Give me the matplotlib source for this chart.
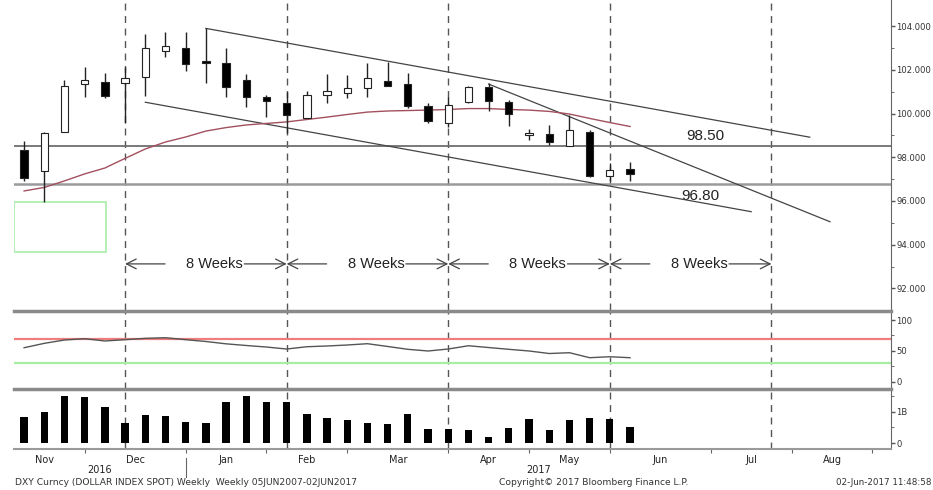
import matplotlib
matplotlib.use("Agg")
import matplotlib.pyplot as plt
import matplotlib.transforms as mtransforms
from matplotlib.patches import Rectangle
import numpy as np

# weekly DXY candles, Nov 2016 - Jun 2017
opens = [98.33, 97.37, 99.14, 101.35, 101.46, 101.39, 101.67, 102.88, 102.99, 102.42, 102.30,
         101.54, 100.77, 100.47, 99.78, 100.85, 100.96, 101.19, 101.49, 101.34, 100.36,
         99.56, 100.52, 101.20, 100.52, 99.04, 99.05, 98.53, 99.17, 97.14, 97.45]
closes = [97.07, 99.13, 101.26, 101.52, 100.81, 101.64, 103.02, 103.08, 102.27, 102.30, 101.20,
          100.77, 100.58, 99.94, 100.85, 101.03, 101.16, 101.64, 101.28, 100.35, 99.68,
          100.38, 101.23, 100.58, 99.98, 99.08, 98.69, 99.25, 97.16, 97.42, 97.22]
highs = [98.75, 99.17, 101.54, 102.12, 101.87, 102.15, 103.64, 103.73, 103.72, 103.90, 102.99,
         101.81, 100.85, 100.97, 101.05, 101.81, 101.77, 102.30, 102.36, 101.84, 100.47,
         100.76, 101.27, 101.39, 100.62, 99.30, 99.48, 99.94, 99.25, 97.73, 97.80]
lows = [96.93, 95.94, 99.14, 100.75, 100.70, 99.57, 100.81, 102.60, 101.96, 101.39, 100.77,
        100.32, 99.86, 99.10, 99.78, 100.50, 100.73, 100.77, 101.28, 100.24, 99.58,
        99.39, 100.48, 100.12, 99.43, 98.79, 98.56, 98.53, 97.10, 96.92, 96.92]
moving_avg = [96.46, 96.62, 96.92, 97.24, 97.51, 97.95, 98.38, 98.70, 98.93, 99.20, 99.36,
              99.48, 99.55, 99.62, 99.73, 99.84, 99.96, 100.07, 100.12, 100.14, 100.16,
              100.19, 100.23, 100.23, 100.19, 100.16, 100.10, 99.98, 99.78, 99.59, 99.41]
rsi = [55.1, 62.2, 67.6, 69.7, 66.0, 68.1, 70.3, 71.3, 68.1, 65.2, 61.4,
       58.7, 56.2, 53.0, 56.7, 57.9, 59.5, 61.6, 57.1, 52.5, 49.8,
       53.0, 58.3, 55.4, 52.5, 49.8, 45.7, 47.0, 38.9, 40.5, 38.9]
volume_b = [0.82, 0.98, 1.50, 1.46, 1.14, 0.65, 0.90, 0.88, 0.66, 0.64, 1.31,
            1.50, 1.31, 1.31, 0.94, 0.81, 0.74, 0.65, 0.62, 0.93, 0.46,
            0.44, 0.42, 0.20, 0.48, 0.78, 0.41, 0.73, 0.81, 0.78, 0.50]

# hand drawn trend lines: (week, level) pairs
trend_upper = [(9.0, 103.9), (38.9, 98.92)]
trend_lower = [(6.0, 100.52), (36.0, 95.51)]
trend_steep = [(23.0, 101.35), (39.9, 95.05)]
levels = [98.50, 96.80]
level_labels = ["98.50", "96.80"]
cycle_weeks = [5, 13, 21, 29, 37]

month_edges = [-1, 3, 8, 12, 16, 21, 25, 29, 34, 38, 42]
month_names = ["Nov", "Dec", "Jan", "Feb", "Mar", "Apr", "May", "Jun", "Jul", "Aug"]
years = ["2016", "2017"]

W, H = 933, 490
fig = plt.figure(figsize=(W / 100, H / 100), dpi=100)
plt.rcParams['font.family'] = ['DejaVu Sans']


def box(top, bottom):
    return [14 / W, 1 - bottom / H, (891 - 14) / W, (bottom - top) / H]


ax = fig.add_axes(box(0, 310))
ax_rsi = fig.add_axes(box(311, 389))
ax_vol = fig.add_axes(box(389, 449))

xs = np.arange(len(opens))
x_right = 42.92
for a in (ax, ax_rsi, ax_vol):
    a.set_xlim(-0.5, x_right)
    a.set_facecolor("white")
    a.spines['left'].set_visible(False)
    a.spines['right'].set_color("#666666")
    a.spines['top'].set_visible(False)
    a.spines['bottom'].set_visible(False)
    a.yaxis.tick_right()
    a.tick_params(axis='y', which='major', direction='out', length=3, width=1,
                  colors="#555555", labelcolor="#333333", labelsize=6.1, pad=1)
    a.tick_params(axis='y', which='minor', direction='out', length=2, colors="#555555")
    for w in cycle_weeks:
        a.axvline(w, color="#555555", lw=1, dashes=(5, 4), zorder=1)

for a in (ax_rsi, ax_vol):
    a.spines['top'].set_visible(True)
    a.spines['top'].set_color("#8a8a8a")
    a.spines['top'].set_linewidth(2.5)

# ---- price panel
ax.set_ylim(91.01, 105.2)
ax.set_yticks([92, 94, 96, 98, 100, 102, 104])
ax.set_yticks([93, 95, 97, 99, 101, 103], minor=True)
ax.set_yticklabels(["%.3f" % v for v in [92, 94, 96, 98, 100, 102, 104]])
ax.tick_params(axis='x', bottom=False, labelbottom=False)

ax.axhline(levels[0], color="#6e6e6e", lw=1.3, zorder=2)
ax.axhline(levels[1], color="#9a9a9a", lw=1.8, zorder=2)
ax.text(33.75, levels[0] + 0.15, level_labels[0], fontsize=11, family="Liberation Sans",
        ha="center", va="bottom", color="#222222")
ax.text(33.5, levels[1] - 0.25, level_labels[1], fontsize=11, family="Liberation Sans",
        ha="center", va="top", color="#222222")

for seg in (trend_upper, trend_lower, trend_steep):
    ax.plot([seg[0][0], seg[1][0]], [seg[0][1], seg[1][1]], color="#444444", lw=0.9, zorder=3)

ax.plot(xs, moving_avg, color="#a2505e", lw=1.0, zorder=3)

ax.vlines(xs, lows, highs, color="#222222", lw=1, zorder=4)
o = np.array(opens)
c = np.array(closes)
up = c >= o
body_bottom = np.minimum(o, c)
body_h = np.maximum(np.abs(c - o), 0.06)
ax.bar(xs, body_h, bottom=body_bottom, width=0.36,
       color=np.where(up, "white", "black"), edgecolor="#222222", lw=0.8, zorder=5)

# green box at the left edge
ax.add_patch(Rectangle((-0.5, 93.68), 4.56, 2.26, fill=False, edgecolor="#a8eea8", lw=1.2, zorder=3))

# "8 Weeks" arrows
arrow_y = 93.12
for k, a0 in enumerate(cycle_weeks[:-1]):
    b0 = cycle_weeks[k + 1]
    ax.text(a0 + 4.42, arrow_y, "8 Weeks", fontsize=10.5, family="Liberation Sans",
            ha="center", va="center", color="#222222", zorder=6)
    style = dict(arrowstyle="->,head_length=0.7,head_width=0.35", color="#444444", lw=0.9,
                 shrinkA=0, shrinkB=0)
    ax.annotate("", xy=(a0, arrow_y), xytext=(a0 + 1.98, arrow_y), arrowprops=style)
    ax.annotate("", xy=(b0, arrow_y), xytext=(a0 + 5.9, arrow_y), arrowprops=style)

# ---- RSI panel
ax_rsi.set_ylim(-11.8, 114.6)
ax_rsi.set_yticks([0, 50, 100])
ax_rsi.set_yticks([25, 75], minor=True)
ax_rsi.tick_params(axis='x', bottom=False, labelbottom=False)
ax_rsi.axhline(70, color="#f07c7c", lw=1.6, zorder=2)
ax_rsi.axhline(30, color="#a6eea6", lw=1.6, zorder=2)
ax_rsi.plot(xs, rsi, color="#555555", lw=1.0, zorder=3)

# ---- volume panel
ax_vol.set_ylim(-0.19, 1.73)
ax_vol.set_yticks([0, 1])
ax_vol.set_yticklabels(["0", "1B"])
ax_vol.set_yticks([0.5, 1.5], minor=True)
ax_vol.spines['bottom'].set_visible(True)
ax_vol.spines['bottom'].set_color("#9a9a9a")
ax_vol.spines['bottom'].set_linewidth(1.5)
ax_vol.bar(xs, volume_b, width=0.36, color="black", zorder=4)

ax_vol.set_xticks(month_edges[1:])
ax_vol.set_xticklabels([])
centers = [(month_edges[i] + month_edges[i + 1]) / 2 for i in range(len(month_names))]
ax_vol.set_xticks(centers, minor=True)
ax_vol.set_xticklabels(month_names, minor=True)
ax_vol.tick_params(axis='x', which='major', direction='out', length=3, colors="#666666")
ax_vol.tick_params(axis='x', which='minor', length=0, labelsize=7, labelcolor="#222222", pad=4)

# years under the months
trans = mtransforms.blended_transform_factory(ax_vol.transData, fig.transFigure)
fig.text((-0.5 + 8) / 2, 1 - 470 / H, years[0], transform=trans, ha="center", va="center",
         fontsize=7, color="#222222")
fig.text((8 + x_right) / 2, 1 - 470 / H, years[1], transform=trans, ha="center", va="center",
         fontsize=7, color="#222222")
fig.add_artist(plt.Line2D([8, 8], [1 - 458 / H, 1 - 477 / H], transform=trans,
                          color="#666666", lw=0.8))

fig.text(15 / W, 1 - 482 / H, "DXY Curncy (DOLLAR INDEX SPOT) Weekly  Weekly 05JUN2007-02JUN2017",
         fontsize=6.6, color="#333333", va="center", ha="left")
fig.text(499 / W, 1 - 482 / H, "Copyright\u00a9 2017 Bloomberg Finance L.P.",
         fontsize=6.6, color="#333333", va="center", ha="left")
fig.text(931 / W, 1 - 482 / H, "02-Jun-2017 11:48:58",
         fontsize=6.3, color="#333333", va="center", ha="right")

fig.savefig("out.png", dpi=100)
